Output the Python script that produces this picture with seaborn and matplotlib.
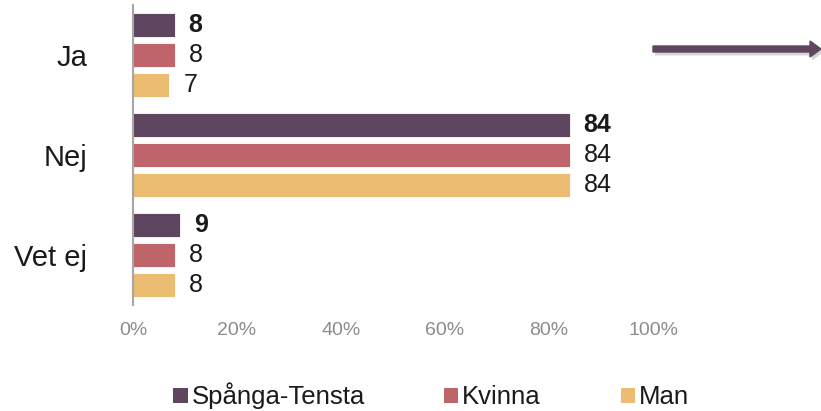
import matplotlib
matplotlib.use("Agg")
import matplotlib.pyplot as plt
import matplotlib.patheffects as pe
from matplotlib.patches import FancyArrow, Patch
from matplotlib.transforms import IdentityTransform
import seaborn as sns
import pandas as pd

# Survey answers (percent) per group
categories = ["Ja", "Nej", "Vet ej"]
groups = ["Spånga-Tensta", "Kvinna", "Man"]
spanga_tensta = [8, 84, 9]
kvinna = [8, 84, 8]
man = [7, 84, 8]
x_ticks = [0, 20, 40, 60, 80, 100]
x_tick_labels = ["0%", "20%", "40%", "60%", "80%", "100%"]
colors = ["#5f4660", "#c0646c", "#ecbc72"]

rows = []
for g, vals in zip(groups, [spanga_tensta, kvinna, man]):
    for c, v in zip(categories, vals):
        rows.append({"Svar": c, "Grupp": g, "Andel": v})
df = pd.DataFrame(rows)

sns.set_theme(style="white")
plt.rcParams["font.family"] = ["Liberation Sans", "DejaVu Sans"]

W, H = 821, 411
fig = plt.figure(figsize=(W / 100, H / 100), dpi=100)
ax = fig.add_axes([133 / W, 1 - 305 / H, 520 / W, 300 / H])

sns.barplot(
    data=df, x="Andel", y="Svar", hue="Grupp",
    order=categories, hue_order=groups, palette=colors,
    orient="h", width=0.9, gap=0.17, saturation=1,
    edgecolor="white", linewidth=0.6, errorbar=None, ax=ax,
)

# value labels, the area total in bold
for i, cont in enumerate(ax.containers):
    ax.bar_label(cont, fmt="%d", padding=10, fontsize=18, color="#1a1a1a",
                 fontweight="bold" if i == 0 else "normal")

ax.set_xlim(0, 100)
ax.set_ylim(2.5, -0.5)
ax.set_xticks(x_ticks)
ax.set_xticklabels(x_tick_labels)
ax.set_xlabel("")
ax.set_ylabel("")
ax.tick_params(axis="x", length=0, pad=12, labelsize=14, labelcolor="#8c8c8c")
ax.tick_params(axis="y", length=0, pad=33, labelsize=21, labelcolor="#1a1a1a")
for s in ["top", "right", "bottom"]:
    ax.spines[s].set_visible(False)
ax.spines["left"].set_color("#a6a6a6")
ax.spines["left"].set_linewidth(1.5)

if ax.get_legend() is not None:
    ax.get_legend().remove()
handles = [Patch(facecolor=c, edgecolor="none") for c in colors]
fig.legend(handles, groups, loc="center", bbox_to_anchor=(431 / W, 1 - 396 / H),
           ncol=3, frameon=False, fontsize=18.5, handlelength=0.55,
           handleheight=0.55, handletextpad=0.15, columnspacing=3.1,
           labelcolor="#1a1a1a", borderpad=0, borderaxespad=0)

# arrow in the top right corner
arrow = FancyArrow(653, H - 49, 821 - 653, 0, width=6, head_width=16,
                   head_length=11, length_includes_head=True,
                   color="#5f4660", transform=IdentityTransform())
arrow.set_path_effects([pe.SimplePatchShadow(offset=(1.5, -2.5),
                                             shadow_rgbFace="#888888", alpha=0.35),
                        pe.Normal()])
fig.add_artist(arrow)

fig.savefig("out.png", dpi=100)
